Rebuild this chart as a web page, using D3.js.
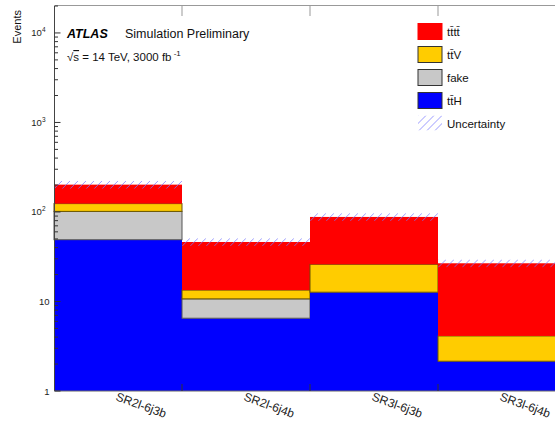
<!DOCTYPE html>
<html><head><meta charset="utf-8">
<script src="https://cdn.jsdelivr.net/npm/d3@7"></script>
<style>
body{margin:0;background:#fff;}
svg{display:block;font-family:"Liberation Sans",Arial,Helvetica,sans-serif;}
</style></head>
<body><svg id="c" width="555" height="423"></svg>
<script>
const categories = ["SR2l-6j3b","SR2l-6j4b","SR3l-6j3b","SR3l-6j4b"];
const ttH  = [49, 6.5, 12.7, 2.15];
const fake = [52.5, 4.2, 0, 0];
const ttV  = [22.5, 2.7, 13.3, 1.97];
const tttt = [78, 32.8, 62, 22.6];
const relUnc = [0.1, 0.1, 0.1, 0.1];
const seriesNames = ["ttH","fake","ttV","tttt"];
const legendLabels = ["tt\u0304tt\u0304","tt\u0304V","fake","tt\u0304H","Uncertainty"];
const yTickValues = [1,10,100,1000,10000];
const yTickLabels = [["1",""],["10",""],["10","2"],["10","3"],["10","4"]];

const colors = {ttH:"#0000ff", fake:"#c8c8c8", ttV:"#ffcc00", tttt:"#ff0000"};
const strokes = {ttH:"none", fake:"#555", ttV:"#6b5500", tttt:"none"};

const svg = d3.select("#c");
const L=54.5, B=391, T=6;
const x = d3.scaleLinear().domain([0,4]).range([54, 54+512]);
const y = d3.scaleLog().domain([1,2e4]).range([B,T]);

const defs = svg.append("defs");
let clipN = 0;
function hatch(g, x0, y0, w, h){
  const id = "hc"+(clipN++);
  defs.append("clipPath").attr("id",id).append("rect").attr("x",x0).attr("y",y0).attr("width",w).attr("height",h);
  const hg = g.append("g").attr("clip-path",`url(#${id})`);
  const sp = 8;
  for(let s = x0 - h - sp; s < x0 + w + sp; s += sp){
    hg.append("line").attr("x1",s).attr("y1",y0+h).attr("x2",s+h).attr("y2",y0)
      .attr("stroke","#7a7aff").attr("stroke-width",1).attr("stroke-opacity",0.75);
  }
}

const data = {ttH, fake, ttV, tttt};
const plot = svg.append("g");
categories.forEach((c,i)=>{
  let cum = 0;
  seriesNames.forEach(s=>{
    const v = data[s][i];
    if(v<=0) return;
    const lo = Math.max(cum,1), hi = cum+v;
    plot.append("rect")
      .attr("x",x(i)).attr("width",x(i+1)-x(i))
      .attr("y",y(hi)).attr("height",y(lo)-y(hi))
      .attr("fill",colors[s])
      .attr("stroke",strokes[s]).attr("stroke-width",1);
    cum = hi;
  });
  const tot = cum;
  const yt = y(tot*(1+relUnc[i])), yb = y(tot*(1-relUnc[i]));
  hatch(plot, x(i), yt, x(i+1)-x(i), yb-yt);
});

// frame
svg.append("line").attr("x1",L).attr("x2",L).attr("y1",T).attr("y2",B).attr("stroke","#444");
svg.append("line").attr("x1",L).attr("x2",555).attr("y1",B).attr("y2",B).attr("stroke","#666");
svg.append("line").attr("x1",L).attr("x2",555).attr("y1",T-0.5).attr("y2",T-0.5).attr("stroke","#999");

// x ticks at bin edges
[1,2,3].forEach(k=>{
  svg.append("line").attr("x1",x(k)).attr("x2",x(k)).attr("y1",B).attr("y2",B-7).attr("stroke","#333");
  svg.append("line").attr("x1",x(k)).attr("x2",x(k)).attr("y1",T).attr("y2",T+10).attr("stroke","#999");
});

// y ticks (log major+minor)
const ax = svg.append("g");
for(let d=0; d<5; d++){
  for(let m=1;m<10;m++){
    const v = m*Math.pow(10,d);
    if(v>2e4) break;
    ax.append("line").attr("x1",L).attr("x2",L+(m===1?6:3.5))
      .attr("y1",y(v)).attr("y2",y(v)).attr("stroke","#333");
  }
}
yTickValues.forEach((v,i)=>{
  const t = ax.append("text").attr("x",L-5).attr("y",y(v)+3.5).attr("text-anchor","end")
    .attr("font-size",9.5).attr("fill","#222");
  if(yTickLabels[i][1]){
    t.attr("x",L-9);
    t.append("tspan").text(yTickLabels[i][0]);
    t.append("tspan").attr("dy",-4).attr("font-size",6.5).text(yTickLabels[i][1]);
  } else t.text(yTickLabels[i][0]);
});

// x labels
categories.forEach((c,i)=>{
  const cx = (x(i)+x(i+1))/2 - 3;
  svg.append("text").attr("transform",`translate(${cx},400) rotate(20)`)
    .attr("font-size",12).attr("fill","#222").text(c);
});

// y title
svg.append("text").attr("transform","translate(21,10) rotate(-90)").attr("text-anchor","end")
  .attr("font-size",11).attr("fill","#111").text("Events");

// ATLAS label
svg.append("text").attr("x",67).attr("y",38).attr("font-size",12.5).attr("font-weight","bold")
  .attr("font-style","italic").attr("fill","#000").text("ATLAS");
svg.append("text").attr("x",125).attr("y",38).attr("font-size",12.5).attr("fill","#111").text("Simulation Preliminary");
const en = svg.append("text").attr("x",67).attr("y",61).attr("font-size",11.5).attr("fill","#111");
en.append("tspan").text("\u221A");
en.append("tspan").attr("text-decoration","overline").text("s");
en.append("tspan").text(" = 14 TeV, 3000 fb");
en.append("tspan").attr("dy",-5).attr("font-size",8).text(" -1");

// legend
const lg = svg.append("g");
const legSeries = ["tttt","ttV","fake","ttH"];
legSeries.forEach((s,i)=>{
  const yy = 23.5 + i*23;
  lg.append("rect").attr("x",418).attr("y",yy).attr("width",24).attr("height",16)
    .attr("fill",colors[s]).attr("stroke", s==="tttt" ? "#ff0000" : "#333").attr("stroke-width",1);
  lg.append("text").attr("x",447).attr("y",yy+12).attr("font-size",11.5).attr("fill","#111").text(legendLabels[i]);
});
hatch(lg, 418, 115.5, 24, 15);
lg.append("text").attr("x",447).attr("y",127.5).attr("font-size",11.5).attr("fill","#111").text(legendLabels[4]);
</script></body></html>
